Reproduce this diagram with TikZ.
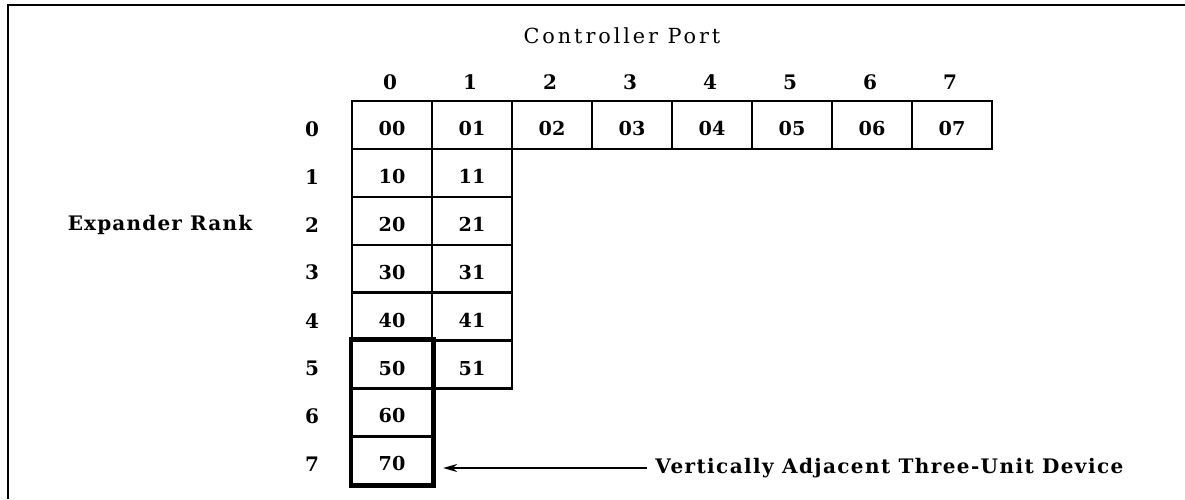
\documentclass[tikz,border=0pt]{standalone}
\usepackage{fontspec}
\setmainfont{DejaVu Serif}
\newfontfamily\labelfont[LetterSpace = 6]{DejaVu Serif}
\newfontfamily\notefont[LetterSpace = 7]{DejaVu Serif}
\newfontfamily\titlefont[LetterSpace = 14]{DejaVu Serif}
\usetikzlibrary{positioning}
\usetikzlibrary{arrows.meta}

\tikzset{
	cell/.style = {draw, line width = 1.2pt, minimum width = 40pt, minimum height = 23.95pt, inner sep = 0pt, text height = 10.5pt, text depth = 0pt, font = \fontsize{9.6}{12}\selectfont\bfseries},
	lbl/.style = {inner sep = 0pt, font = \labelfont\fontsize{10}{12}\selectfont\bfseries},
}

\begin{document}
\begin{tikzpicture}[x = 0.5pt, y = -0.5pt]
	\useasboundingbox (0, 0) rectangle (1185, 499);
	\draw [black, line width = 1.2pt] (8, 499) -- (8, 5) -- (1185, 5);
	\node [inner sep = 0pt, font = \titlefont\fontsize{10.4}{12}\selectfont] (title) at (622, 36) {Controller Port};
	\node [lbl] (rank) at (160, 225) {Expander Rank};
	\foreach \c in {0, ..., 7}
		{\node [lbl] (port\c) at (390 + 80 * \c, 82) {\c};
		 \node [cell] (c0\c) at (392 + 80 * \c, 125) {0\c};
		 \node [lbl] (row\c) at (312, 129 + 47.9 * \c) {\c};}
	\foreach \r in {1, ..., 5}
		\foreach \c in {0, 1}
			\node [cell] (c\r\c) at (392 + 80 * \c, 125 + 47.9 * \r) {\r\c};
	\foreach \r in {6, 7}
		\node [cell] (c\r0) at (392, 125 + 47.9 * \r) {\r0};
	\draw [black, line width = 2.3pt] (c50.north west) rectangle (c70.south east);
	\node [lbl, font = \notefont\fontsize{10}{12}\selectfont\bfseries, anchor = west] (note) at (655, 468) {Vertically Adjacent Three-Unit Device};
	\draw [black, line width = 1pt, -{Stealth[length = 7pt, width = 4pt]}, shorten <= 4pt, shorten >= 5pt] (note.west) -- (c70.east |- note.west);
\end{tikzpicture}
\end{document}
